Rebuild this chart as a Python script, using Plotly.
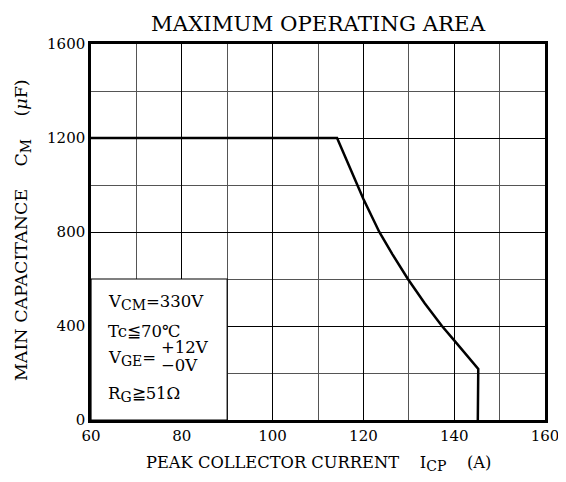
import plotly.graph_objects as go

# Data
icp = [60, 114.2, 120, 123.5, 126.4, 129.8, 133.5, 137.3, 140, 145.3, 145.2]
cm = [1200, 1200, 940, 800, 705, 600, 497, 400, 339, 217, 0]

x_ticks = [60, 80, 100, 120, 140, 160]
y_ticks = [0, 400, 800, 1200, 1600]

FONT = "DejaVu Serif"

fig = go.Figure()
fig.add_trace(go.Scatter(x=icp, y=cm, mode="lines",
                         line=dict(color="black", width=2.5),
                         showlegend=False, hoverinfo="skip"))

# white box for conditions
fig.add_shape(type="rect", x0=60, x1=90, y0=0, y1=600, xref="x", yref="y",
              fillcolor="white", line=dict(color="black", width=1.2), layer="between")

fig.update_layout(
    width=558, height=474,
    margin=dict(l=83, r=21, t=36, b=62, autoexpand=False),
    paper_bgcolor="white", plot_bgcolor="white",
    font=dict(family=FONT, color="black", size=15),
    title=dict(text="MAXIMUM OPERATING AREA", x=0.5, xanchor="center", xref="paper",
               y=0.968, yanchor="middle", font=dict(family=FONT, size=21.3, color="black")),
)

fig.update_xaxes(range=[60, 160], tickvals=x_ticks, ticktext=[str(v) for v in x_ticks],
                 showgrid=True, gridcolor="black", gridwidth=1.3,
                 minor=dict(dtick=10, showgrid=True, gridcolor="#555555", gridwidth=1.2),
                 showline=True, linecolor="black", linewidth=2.5, mirror=True,
                 ticks="", ticklen=0, zeroline=False, automargin=False,
                 tickfont=dict(family=FONT, size=15, color="black"))
fig.update_yaxes(range=[0, 1600], tickvals=y_ticks, ticktext=[str(v) for v in y_ticks],
                 showgrid=True, gridcolor="black", gridwidth=1.3,
                 minor=dict(dtick=200, showgrid=True, gridcolor="#555555", gridwidth=1.2),
                 showline=True, linecolor="black", linewidth=2.5, mirror=True,
                 ticks="", ticklen=0, zeroline=False, automargin=False,
                 tickfont=dict(family=FONT, size=15, color="black"))

NB = "\u00a0"


def sub(s, size):
    return '<sub><span style="font-size:%dpx">%s</span></sub>' % (size, s)


# Axis titles as annotations
fig.add_annotation(text="MAIN CAPACITANCE" + NB * 4 + "C" + sub("M", 14) + NB * 4 + "(<i>μ</i>F)",
                   xref="paper", yref="paper", x=-0.152, y=0.505, textangle=-90,
                   showarrow=False, xanchor="center", yanchor="middle",
                   font=dict(family=FONT, size=17.5, color="black"))
fig.add_annotation(text="PEAK COLLECTOR CURRENT" + NB * 4 + "I" + sub("CP", 14) + NB * 4 + "(A)",
                   xref="paper", yref="paper", x=0.5, y=-0.117,
                   showarrow=False, xanchor="center", yanchor="middle",
                   font=dict(family=FONT, size=16.3, color="black"))

# Conditions text
cond_font = dict(family=FONT, size=16.5, color="black")
fig.add_annotation(text="V" + sub("CM", 14) + "=330V", x=63.2, y=500, xref="x", yref="y",
                   showarrow=False, xanchor="left", yanchor="middle", font=cond_font)
fig.add_annotation(text="Tc≦70℃", x=63.2, y=377, xref="x", yref="y",
                   showarrow=False, xanchor="left", yanchor="middle", font=cond_font)
fig.add_annotation(text="V" + sub("GE", 14) + "=", x=63.2, y=262, xref="x", yref="y",
                   showarrow=False, xanchor="left", yanchor="middle", font=cond_font)
fig.add_annotation(text="+12V", x=75.0, y=310, xref="x", yref="y",
                   showarrow=False, xanchor="left", yanchor="middle", font=cond_font)
fig.add_annotation(text="−0V", x=75.0, y=232, xref="x", yref="y",
                   showarrow=False, xanchor="left", yanchor="middle", font=cond_font)
fig.add_annotation(text="R" + sub("G", 14) + "≧51Ω", x=63.2, y=107, xref="x", yref="y",
                   showarrow=False, xanchor="left", yanchor="middle", font=cond_font)

fig.write_html("out.html")
